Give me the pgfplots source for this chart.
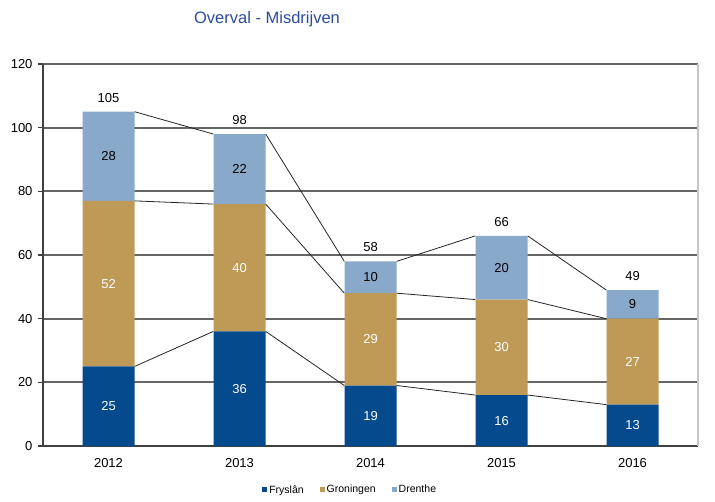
\documentclass[border=0pt]{standalone}
\usepackage{fontspec}
\setmainfont{Liberation Sans}
\usepackage{pgfplots}
\pgfplotsset{compat=1.18}
\definecolor{fry}{HTML}{054A8C}
\definecolor{gro}{HTML}{BF9A56}
\definecolor{dre}{HTML}{89A9CB}
\definecolor{ttl}{HTML}{2B4C9C}
\begin{document}
\begin{tikzpicture}
\useasboundingbox (0pt,0pt) rectangle (715pt,501pt);
\node[text=ttl, font=\fontsize{16.5}{18}\selectfont] at (267pt,482pt) {Overval - Misdrijven};
\begin{axis}[
  at={(43pt,55pt)}, anchor=south west,
  scale only axis, width=655pt, height=382pt,
  xmin=-0.5, xmax=4.5, ymin=0, ymax=120,
  ytick={0,20,...,120},
  xtick={0,1,2,3,4}, xticklabels={2012,2013,2014,2015,2016},
  /pgf/number format/assume math mode=true,
  ybar stacked, bar width=52pt,
  ymajorgrids,
  major grid style={black!60, line width=1.8pt},
  axis x line*=bottom, axis y line*=left,
  axis line style={black!75, line width=1.8pt},
  tick align=outside, major tick length=5pt,
  ytick style={black!75, line width=1.5pt},
  xtick style={draw=none},
  tick label style={font=\fontsize{13}{15}\selectfont},
  yticklabel style={xshift=-2pt},
  xticklabel style={yshift=-4pt},
  legend columns=3,
  legend style={draw=none, at={(0.469,-0.115)}, anchor=center,
    font=\fontsize{10.5}{12}\selectfont,
    /tikz/every even column/.append style={column sep=14pt}},
]
\addplot[fill=fry, draw=none, legend image code/.code={\fill[fry] (0pt,-2.5pt) rectangle (5pt,2.5pt);}] coordinates {(0,25) (1,36) (2,19) (3,16) (4,13)};
\addplot[fill=gro, draw=none, legend image code/.code={\fill[gro] (0pt,-2.5pt) rectangle (5pt,2.5pt);}] coordinates {(0,52) (1,40) (2,29) (3,30) (4,27)};
\addplot[fill=dre, draw=none, legend image code/.code={\fill[dre] (0pt,-2.5pt) rectangle (5pt,2.5pt);}] coordinates {(0,28) (1,22) (2,10) (3,20) (4,9)};
\legend{Fryslân, Groningen, Drenthe}
\end{axis}
\begin{axis}[
  at={(43pt,55pt)}, anchor=south west,
  scale only axis, width=655pt, height=382pt,
  xmin=-0.5, xmax=4.5, ymin=0, ymax=120,
  hide axis, clip=false,
  unbounded coords=jump,
]
\draw[gray!45, line width=1.5pt] (rel axis cs:1,0) -- (rel axis cs:1,1);
\addplot[black!85, line width=0.8pt, mark=none] coordinates {(0.2,25) (0.8,36) (1,nan) (1.2,36) (1.8,19) (2,nan) (2.2,19) (2.8,16) (3,nan) (3.2,16) (3.8,13)};
\addplot[black!85, line width=0.8pt, mark=none] coordinates {(0.2,77) (0.8,76) (1,nan) (1.2,76) (1.8,48) (2,nan) (2.2,48) (2.8,46) (3,nan) (3.2,46) (3.8,40)};
\addplot[black!85, line width=0.8pt, mark=none] coordinates {(0.2,105) (0.8,98) (1,nan) (1.2,98) (1.8,58) (2,nan) (2.2,58) (2.8,66) (3,nan) (3.2,66) (3.8,49)};
\addplot[draw=none, mark=none, point meta=explicit symbolic, nodes near coords,
  nodes near coords style={anchor=center, text=white, font=\fontsize{13}{15}\selectfont}]
  coordinates {(0,12.5)[25] (1,18)[36] (2,9.5)[19] (3,8)[16] (4,6.5)[13]};
\addplot[draw=none, mark=none, point meta=explicit symbolic, nodes near coords,
  nodes near coords style={anchor=center, text=white, font=\fontsize{13}{15}\selectfont}]
  coordinates {(0,51)[52] (1,56)[40] (2,33.5)[29] (3,31)[30] (4,26.5)[27]};
\addplot[draw=none, mark=none, point meta=explicit symbolic, nodes near coords,
  nodes near coords style={anchor=center, text=black, font=\fontsize{13}{15}\selectfont}]
  coordinates {(0,91)[28] (1,87)[22] (2,53)[10] (3,56)[20] (4,44.5)[9]};
\addplot[draw=none, mark=none, point meta=explicit symbolic, nodes near coords,
  nodes near coords style={anchor=south, yshift=6pt, text=black, font=\fontsize{13}{15}\selectfont}]
  coordinates {(0,105)[105] (1,98)[98] (2,58)[58] (3,66)[66] (4,49)[49]};
\end{axis}
\end{tikzpicture}
\end{document}
